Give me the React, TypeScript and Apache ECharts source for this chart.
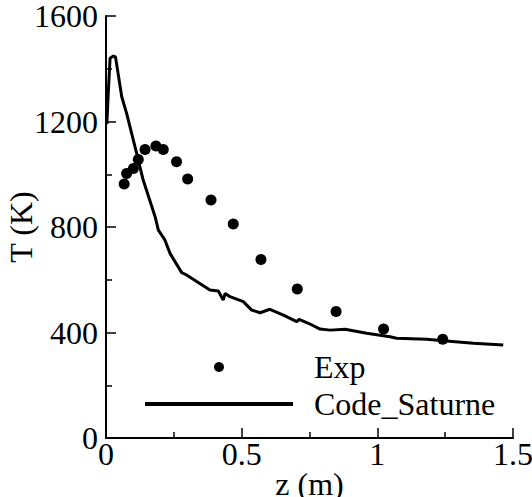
import React, { useEffect, useRef } from "react";
import * as echarts from "echarts";

const expZ = [0.067, 0.076, 0.101, 0.119, 0.144, 0.184, 0.211, 0.26, 0.301, 0.387, 0.469, 0.571, 0.705, 0.848, 1.023, 1.241];
const expT = [963, 1003, 1022, 1056, 1094, 1107, 1094, 1047, 982, 902, 811, 677, 565, 480, 413, 374];

const codeZ = [0.003, 0.008, 0.015, 0.027, 0.035, 0.058, 0.076, 0.113, 0.137, 0.181, 0.193, 0.217, 0.236, 0.279, 0.297, 0.383, 0.414, 0.432, 0.439, 0.457, 0.506, 0.537, 0.568, 0.604, 0.654, 0.703, 0.712, 0.746, 0.789, 0.826, 0.881, 0.961, 1.047, 1.071, 1.182, 1.243, 1.354, 1.464];
const codeT = [1190, 1300, 1440, 1448, 1445, 1294, 1231, 1079, 978, 839, 788, 751, 700, 627, 618, 561, 557, 523, 548, 536, 517, 485, 475, 488, 466, 441, 450, 435, 413, 409, 412, 397, 384, 378, 374, 369, 359, 353];

const FONT = "Liberation Serif";
const FS = 32;

export default function App() {
  const ref = useRef<HTMLDivElement>(null);
  useEffect(() => {
    if (!ref.current) return;
    const chart = echarts.init(ref.current, null, { renderer: "svg" });
    const axisCommon = {
      axisLine: { show: true, lineStyle: { color: "#000", width: 2 } },
      axisTick: { show: true, inside: true, length: 10, lineStyle: { color: "#000", width: 1.5 } },
      minorTick: { show: true, splitNumber: 2, length: 6, lineStyle: { color: "#000", width: 1.5 } },
      splitLine: { show: false },
      minorSplitLine: { show: false },
      nameLocation: "middle",
      nameMoveOverlap: false,
      nameTextStyle: { fontFamily: FONT, fontSize: FS, color: "#000" },
    };
    const fmt = (v: number) => String(v);
    chart.setOption({
      animation: false,
      backgroundColor: "#fff",
      grid: { left: 106, right: 19, top: 16, bottom: 59, containLabel: false, outerBoundsMode: "none" },
      xAxis: {
        type: "value",
        min: 0,
        max: 1.5,
        interval: 0.5,
        name: "z (m)",
        nameGap: 30,
        ...axisCommon,
        axisLabel: { fontFamily: FONT, fontSize: FS, color: "#000", margin: 0, formatter: fmt },
      },
      yAxis: {
        type: "value",
        min: 0,
        max: 1600,
        interval: 400,
        name: "T (K)",
        nameGap: 69,
        nameRotate: 90,
        ...axisCommon,
        axisLabel: { fontFamily: FONT, fontSize: FS, color: "#000", margin: 8, formatter: fmt },
      },
      legend: {
        orient: "vertical",
        left: 143,
        top: 351,
        padding: 0,
        itemWidth: 148,
        itemHeight: 10,
        itemGap: 5,
        lineStyle: { width: 4 },
        textStyle: { fontFamily: FONT, fontSize: FS, color: "#000", lineHeight: FS, padding: [0, 0, 0, 16] },
        data: [
          { name: "Exp", icon: "circle", itemStyle: { color: "#000", opacity: 1 } },
          { name: "Code_Saturne", itemStyle: { opacity: 0 } },
        ],
      },
      series: [
        {
          name: "Exp",
          type: "scatter",
          data: expZ.map((z, i) => [z, expT[i]]),
          symbol: "circle",
          symbolSize: 11,
          itemStyle: { color: "#000", opacity: 1 },
        },
        {
          name: "Code_Saturne",
          type: "line",
          data: codeZ.map((z, i) => [z, codeT[i]]),
          symbol: "none",
          lineStyle: { color: "#000", width: 3 },
          itemStyle: { color: "#000" },
        },
      ],
    });
    return () => chart.dispose();
  }, []);
  return <div ref={ref} style={{ width: 532, height: 497, position: "absolute", left: 0, top: 0 }} />;
}
